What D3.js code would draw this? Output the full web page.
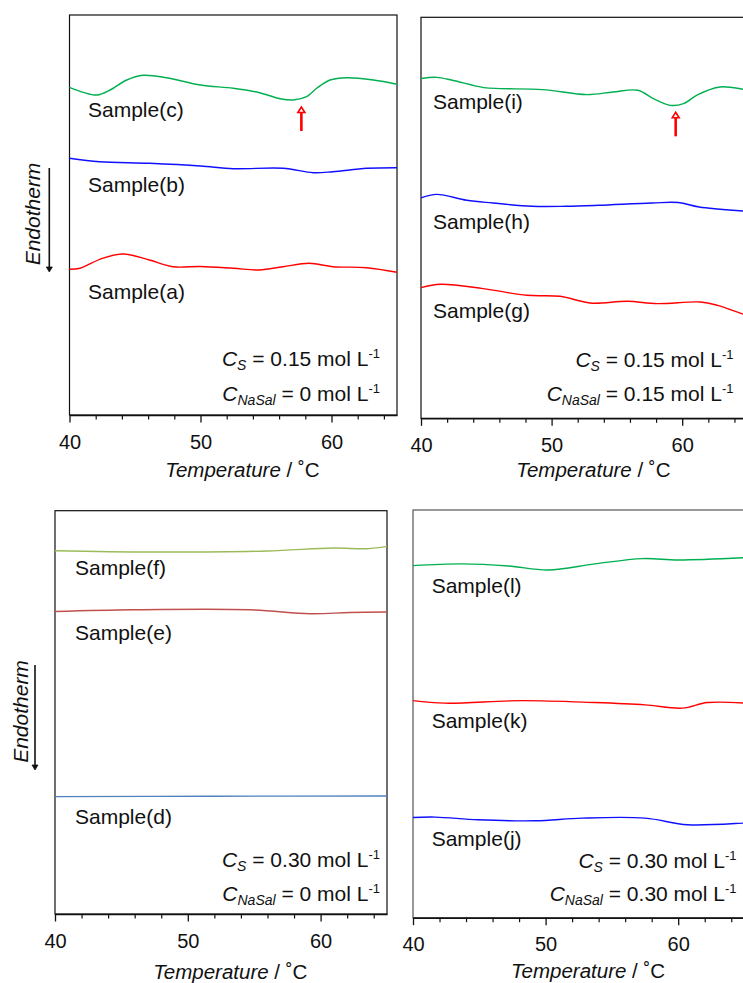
<!DOCTYPE html>
<html>
<head>
<meta charset="utf-8">
<script src="https://cdn.jsdelivr.net/npm/d3@7"></script>
<style>
  html, body { margin: 0; padding: 0; background: #fff; }
  svg { display: block; }
</style>
</head>
<body>
<svg id="chart" width="743" height="983"></svg>
<script>
// DSC heat-flow traces (arbitrary units, endotherm downward) vs temperature (°C)

const tempMajorTicks = [40, 50, 60];
const tempMinorTicks = [42, 44, 46, 48, 52, 54, 56, 58, 62, 64];

// C_S = 0.15 mol/L, C_NaSal = 0
const sampleA = [[40,14.57],[40.8,14.67],[42.5,15.67],[44.1,16.1],[46.1,15.5],[47.9,14.83],[50,14.85],[52.5,14.67],[54.5,14.5],[56.3,14.83],[58.3,15.17],[60.1,14.83],[62.7,14.73],[65,14.27]];
const sampleB = [[40,25.67],[42.3,25.33],[46.1,25.17],[50,24.9],[52.5,24.63],[56.3,24.67],[58.6,24.23],[60.1,24.33],[62.7,24.67],[65,24.73]];
const sampleC = [[40,32.77],[41.05,32.27],[42.1,32.0],[43.1,32.5],[44.37,33.5],[45.6,33.97],[47.4,33.73],[50,33.0],[52.5,32.67],[54.5,32.23],[56.07,31.63],[57.08,31.5],[58.1,31.83],[58.87,32.67],[59.89,33.5],[61.16,33.73],[63.2,33.5],[65,33.07]];

// C_S = 0.15 mol/L, C_NaSal = 0.15 mol/L
const sampleG = [[40,13.04],[41.5,13.37],[44.75,12.94],[48.1,12.27],[50.65,12.17],[52.95,11.5],[55.8,11.67],[58.1,11.44],[61.4,11.6],[62.7,11.27],[64.7,10.37],[65,10.27]];
const sampleH = [[40,21.98],[41.2,22.34],[43.5,21.75],[45.5,21.48],[48.5,21.15],[51.1,21.15],[53.6,21.25],[57.7,21.48],[59.7,21.52],[61.3,21.08],[64.6,20.68],[65,20.65]];
const sampleI = [[40,33.89],[41.2,34.01],[42.4,33.72],[44.8,32.99],[46.1,32.89],[49.3,32.79],[52.7,32.29],[54.7,32.55],[56.6,32.72],[57.8,31.89],[59.1,31.22],[60.1,31.39],[61.2,32.29],[62.9,33.05],[64.7,32.82],[65,32.77]];

// C_S = 0.30 mol/L, C_NaSal = 0
const sampleD = [[40,11.64],[52,11.68],[65,11.71]];
const sampleE = [[40,30.0],[45.9,30.17],[54.7,30.17],[59.2,29.78],[62.2,29.9],[65,29.95]];
const sampleF = [[40,36.03],[47.15,35.9],[55.96,36.0],[60.93,36.3],[63.5,36.23],[65,36.46]];

// C_S = 0.30 mol/L, C_NaSal = 0.30 mol/L
const sampleJ = [[40,9.83],[41.7,9.87],[44.9,9.61],[49.2,9.51],[52.75,9.77],[57.5,9.77],[60.7,9.12],[64.9,9.28],[65,9.28]];
const sampleK = [[40,21.3],[42.4,21.05],[48.2,21.3],[53.7,21.11],[57.5,20.88],[60.3,20.56],[62.2,21.11],[65,21.05]];
const sampleL = [[40,34.54],[43.7,34.71],[47.2,34.51],[50.2,34.12],[53.7,34.71],[57.3,35.23],[60.0,35.1],[65,35.32]];

const sampleNames = ["Sample(a)","Sample(b)","Sample(c)","Sample(d)","Sample(e)","Sample(f)",
                     "Sample(g)","Sample(h)","Sample(i)","Sample(j)","Sample(k)","Sample(l)"];
const csLabels = ["0.15", "0.15", "0.30", "0.30"];
const cNaSalLabels = ["0", "0.15", "0", "0.30"];

// Temperatures of the transition dips marked with arrows
const dipTemps = [57.7, 59.5];

const FONT = "'Liberation Sans', Arial, Helvetica, sans-serif";
const svg = d3.select("#chart");

const panels = [
  { x0: 69.5, x1: 397, top: 15, axisY: 415, titleY: 477, annoRight: 380, annoY: [366, 401],
    frame: "#111", labelDx: 18.5, endo: { x: 40, y: 214, ax: 49.3, ay0: 168, ay1: 272 },
    series: [
      { data: sampleC, name: 2, color: "#00b050", dy: 30 },
      { data: sampleB, name: 1, color: "#1010ff", dy: 34 },
      { data: sampleA, name: 0, color: "#ff0000", dy: 29.7 } ],
    dip: 0, dipSeries: sampleC },
  { x0: 421, x1: 747.5, top: 17.3, axisY: 418.3, titleY: 476.5, annoRight: 733.5, annoY: [366.7, 401],
    frame: "#111", labelDx: 12,
    series: [
      { data: sampleI, name: 8, color: "#00b050", dy: 30.7 },
      { data: sampleH, name: 7, color: "#1010ff", dy: 31.3 },
      { data: sampleG, name: 6, color: "#ff0000", dy: 30.7 } ],
    dip: 1, dipSeries: sampleI },
  { x0: 55, x1: 387, top: 510.7, axisY: 914, titleY: 978.5, annoRight: 380, annoY: [866.7, 900.7],
    frame: "#111", labelDx: 20, endo: { x: 28, y: 711.5, ax: 35, ay0: 665, ay1: 770 },
    series: [
      { data: sampleF, name: 5, color: "#9bbb59", dy: 24 },
      { data: sampleE, name: 4, color: "#c0504d", dy: 28 },
      { data: sampleD, name: 3, color: "#4f81bd", dy: 27.3 } ] },
  { x0: 413, x1: 744.5, top: 510, axisY: 917.7, titleY: 978, annoRight: 736.5, annoY: [867.5, 901],
    frame: "#555", labelDx: 18.7,
    series: [
      { data: sampleL, name: 11, color: "#00b050", dy: 27.3 },
      { data: sampleK, name: 10, color: "#ff0000", dy: 27.6 },
      { data: sampleJ, name: 9, color: "#1010ff", dy: 28 } ] }
];

panels.forEach((p, i) => {
  const g = svg.append("g");
  const x = d3.scaleLinear().domain([40, 65]).range([p.x0, p.x1]);
  const y = d3.scaleLinear().domain([0, 40]).range([p.axisY, p.top]);

  // frame
  g.append("rect")
    .attr("x", p.x0).attr("y", p.top)
    .attr("width", p.x1 - p.x0).attr("height", p.axisY - p.top)
    .attr("fill", "none").attr("stroke", p.frame).attr("stroke-width", 1.2);

  // minor ticks
  const minor = g.append("g").attr("transform", `translate(0,${p.axisY})`)
    .call(d3.axisBottom(x).tickValues(tempMinorTicks).tickSize(4.5).tickSizeOuter(0).tickFormat(""));
  minor.select(".domain").remove();
  minor.selectAll(".tick line").attr("stroke", "#111").attr("stroke-width", 1.2);

  // major ticks + labels
  const major = g.append("g").attr("transform", `translate(0,${p.axisY})`)
    .call(d3.axisBottom(x).tickValues(tempMajorTicks).tickSize(7.5).tickSizeOuter(0).tickPadding(12));
  major.select(".domain").attr("stroke", "#111").attr("stroke-width", 1.4);
  major.selectAll(".tick line").attr("stroke", "#111").attr("stroke-width", 1.3);
  major.selectAll(".tick text")
    .attr("font-family", FONT).attr("font-size", 20).attr("fill", "#111");

  // axis title
  const title = g.append("text")
    .attr("x", x(53.2)).attr("y", p.titleY)
    .attr("text-anchor", "middle")
    .attr("font-family", FONT).attr("font-size", 20.5).attr("fill", "#111");
  title.append("tspan").attr("font-style", "italic").text("Temperature");
  title.append("tspan").text(" / \u02DAC");

  // traces
  const line = d3.line()
    .x(d => x(d[0])).y(d => y(d[1]))
    .curve(d3.curveCatmullRom.alpha(0.5));

  p.series.forEach(s => {
    g.append("path")
      .datum(s.data)
      .attr("d", line)
      .attr("fill", "none")
      .attr("stroke", s.color)
      .attr("stroke-width", 1.4)
      .attr("stroke-linejoin", "round");

    g.append("text")
      .attr("x", p.x0 + p.labelDx)
      .attr("y", y(s.data[0][1]) + s.dy)
      .attr("font-family", FONT).attr("font-size", 21).attr("fill", "#111")
      .text(sampleNames[s.name]);
  });

  // concentration annotations
  const a1 = g.append("text")
    .attr("x", p.annoRight).attr("y", p.annoY[0])
    .attr("text-anchor", "end")
    .attr("font-family", FONT).attr("font-size", 21).attr("fill", "#111");
  a1.append("tspan").attr("font-style", "italic").text("C");
  a1.append("tspan").attr("font-style", "italic").attr("font-size", 14).attr("dy", 4).text("S");
  a1.append("tspan").attr("dy", -4).text(` = ${csLabels[i]} mol L`);
  a1.append("tspan").attr("font-size", 13).attr("dy", -8).text("-1");

  const a2 = g.append("text")
    .attr("x", p.annoRight).attr("y", p.annoY[1])
    .attr("text-anchor", "end")
    .attr("font-family", FONT).attr("font-size", 21).attr("fill", "#111");
  a2.append("tspan").attr("font-style", "italic").text("C");
  a2.append("tspan").attr("font-style", "italic").attr("font-size", 14).attr("dy", 4).text("NaSal");
  a2.append("tspan").attr("dy", -4).text(` = ${cNaSalLabels[i]} mol L`);
  a2.append("tspan").attr("font-size", 13).attr("dy", -8).text("-1");

  // "Endotherm" direction indicator
  if (p.endo) {
    const e = p.endo;
    g.append("text")
      .attr("transform", `translate(${e.x},${e.y}) rotate(-90)`)
      .attr("text-anchor", "middle")
      .attr("font-family", FONT).attr("font-size", 21).attr("font-style", "italic").attr("fill", "#111")
      .text("Endotherm");
    g.append("line")
      .attr("x1", e.ax).attr("x2", e.ax).attr("y1", e.ay0).attr("y2", e.ay1 - 3)
      .attr("stroke", "#111").attr("stroke-width", 1.6);
    g.append("path")
      .attr("d", `M${e.ax - 3},${e.ay1 - 5} L${e.ax},${e.ay1} L${e.ax + 3},${e.ay1 - 5} Z`)
      .attr("fill", "#111").attr("stroke", "#111").attr("stroke-width", 0.8);
  }

  // arrow under the transition dip
  if (p.dip !== undefined) {
    const t = dipTemps[p.dip];
    const minV = d3.min(p.dipSeries, d => d[1]);
    const ax = x(t);
    const tip = y(minV) + 7;
    g.append("line")
      .attr("x1", ax).attr("x2", ax).attr("y1", tip + 5).attr("y2", tip + 24)
      .attr("stroke", "#ff0000").attr("stroke-width", 2.6);
    g.append("path")
      .attr("d", `M${ax - 3.5},${tip + 5.5} L${ax},${tip} L${ax + 3.5},${tip + 5.5} Z`)
      .attr("fill", "#fff").attr("stroke", "#ff0000").attr("stroke-width", 1.6)
      .attr("stroke-linejoin", "miter");
  }
});
</script>
</body>
</html>
